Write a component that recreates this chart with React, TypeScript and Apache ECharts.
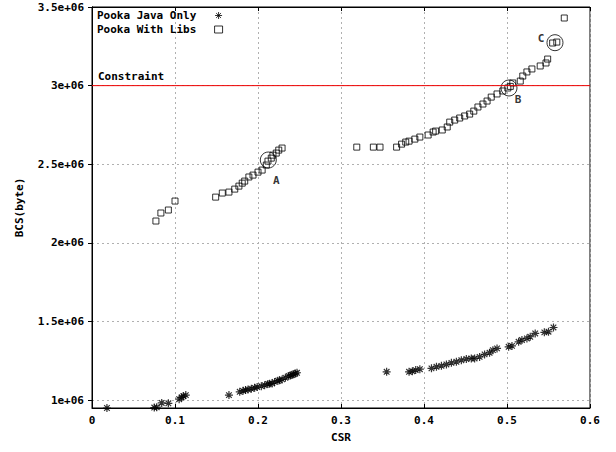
import React, { useEffect, useRef } from "react";
import * as echarts from "echarts";

const FONT = '"DejaVu Sans Mono", "Liberation Mono", monospace';

const X_MIN = 0;
const X_MAX = 0.6;
const X_INTERVAL = 0.1;
const Y_MIN = 950000;
const Y_MAX = 3500000;
const Y_TICKS = [1000000, 1500000, 2000000, 2500000, 3000000, 3500000];
const CONSTRAINT = 3000000;

const JAVA_NAME = "Pooka Java Only";
const LIBS_NAME = "Pooka With Libs";

const javaCSR = [
  0.018, 0.075, 0.078, 0.084, 0.092, 0.105, 0.108, 0.110, 0.113,
  0.165,
  0.178, 0.182, 0.185, 0.188, 0.192, 0.196, 0.199, 0.204, 0.208, 0.212, 0.214,
  0.217, 0.220, 0.224, 0.226, 0.229, 0.233, 0.237, 0.239, 0.241, 0.243, 0.245, 0.247,
  0.355,
  0.382, 0.386, 0.390, 0.395, 0.409, 0.415, 0.421, 0.427, 0.433, 0.439, 0.445,
  0.451, 0.457, 0.461, 0.467, 0.473, 0.479, 0.483, 0.488,
  0.502, 0.506, 0.514, 0.518, 0.524, 0.528, 0.534, 0.545, 0.550, 0.556,
];
const javaBCS = [
  950000, 953000, 955000, 982000, 980000, 1006000, 1018000, 1025000, 1032000,
  1032000,
  1053000, 1059000, 1064000, 1068000, 1072000, 1078000, 1083000, 1089000, 1095000, 1102000, 1104000,
  1106000, 1116000, 1123000, 1127000, 1132000, 1142000, 1153000, 1157000, 1161000, 1165000, 1170000, 1174000,
  1180000,
  1180000, 1184000, 1191000, 1197000, 1202000, 1212000, 1218000, 1227000, 1237000, 1244000, 1254000,
  1261000, 1265000, 1265000, 1275000, 1291000, 1301000, 1318000, 1329000,
  1339000, 1345000, 1371000, 1382000, 1392000, 1403000, 1424000, 1431000, 1435000, 1462000,
];

const libsCSR = [
  0.077, 0.083, 0.092, 0.100,
  0.149, 0.157, 0.165, 0.172, 0.177, 0.181, 0.184, 0.189, 0.194, 0.200, 0.205,
  0.210, 0.212, 0.216, 0.218, 0.222, 0.225, 0.229,
  0.319, 0.339, 0.347, 0.367, 0.373, 0.378, 0.382, 0.389, 0.395, 0.405, 0.411,
  0.414, 0.422, 0.428, 0.431, 0.437, 0.443, 0.449, 0.455, 0.460, 0.465, 0.471,
  0.476, 0.481, 0.488, 0.495, 0.501, 0.504, 0.507, 0.516, 0.519, 0.524, 0.530,
  0.540, 0.547, 0.549, 0.555, 0.560, 0.569,
];
const libsBCS = [
  2139000, 2190000, 2209000, 2266000,
  2291000, 2317000, 2323000, 2342000, 2361000, 2380000, 2393000, 2419000, 2431000, 2450000, 2463000,
  2495000, 2520000, 2539000, 2558000, 2571000, 2590000, 2603000,
  2609000, 2609000, 2609000, 2609000, 2628000, 2641000, 2647000, 2660000, 2673000, 2686000, 2705000,
  2711000, 2718000, 2737000, 2768000, 2781000, 2794000, 2807000, 2819000, 2838000, 2864000, 2883000,
  2902000, 2927000, 2947000, 2966000, 2985000, 2995000, 3017000, 3029000, 3061000, 3087000, 3106000,
  3125000, 3144000, 3169000, 3271000, 3277000, 3430000,
];

const annotNames = ["A", "B", "C"];
const annotCSR = [0.2124, 0.5024, 0.5578];
const annotBCS = [2527000, 2985000, 3273000];
const ANNOT_LABEL_OFFSETS = [
  [8, 20],
  [9, 12],
  [-14, -4],
];

const STAR = "path://M5,0L5,10M0,5L10,5M1.5,1.5L8.5,8.5M1.5,8.5L8.5,1.5";

const textBase = { fontFamily: FONT, fontSize: 11, fontWeight: "bold" as const, color: "#000" };

function fmtY(v: number) {
  return v / 1e6 + "e+06";
}
function fmtX(v: number) {
  return v === 0 ? "0" : v.toFixed(1);
}

export default function App() {
  const ref = useRef<HTMLDivElement>(null);
  useEffect(() => {
    if (!ref.current) return;
    const chart = echarts.init(ref.current, undefined, { renderer: "svg" });
    const markerStyle = { color: "transparent", borderColor: "#000", borderWidth: 1 };
    const splitLine = { show: true, lineStyle: { color: "#b0b0b0", type: [2, 3] as any, width: 1 } };
    const axisLine = { show: true, lineStyle: { color: "#000", width: 1 } };
    chart.setOption({
      animation: false,
      backgroundColor: "#fff",
      grid: { left: 92, right: 26, top: 7, bottom: 44, show: true, borderColor: "#000", borderWidth: 1 },
      legend: {
        orient: "vertical",
        left: 97,
        top: 10,
        align: "right",
        itemWidth: 8,
        itemHeight: 7,
        itemGap: 3,
        padding: 0,
        formatter: (n: string) => n + "\u00a0\u00a0",
        textStyle: { ...textBase },
        itemStyle: { color: "transparent", borderColor: "#000", borderWidth: 1 },
        data: [
          { name: JAVA_NAME, icon: STAR },
          { name: LIBS_NAME, icon: "rect" },
        ],
      },
      xAxis: [
        {
          type: "value",
          min: X_MIN,
          max: X_MAX,
          interval: X_INTERVAL,
          name: "CSR",
          nameLocation: "middle",
          nameGap: 24,
          nameTextStyle: { ...textBase },
          axisLine,
          axisTick: { show: true, inside: true, length: 4, lineStyle: { color: "#000" } },
          axisLabel: { ...textBase, margin: 7, formatter: fmtX },
          splitLine,
        },
        {
          type: "value",
          position: "top",
          min: X_MIN,
          max: X_MAX,
          interval: X_INTERVAL,
          axisLine,
          axisTick: { show: true, inside: true, length: 4, lineStyle: { color: "#000" } },
          axisLabel: { show: false },
          splitLine: { show: false },
        },
      ],
      yAxis: [
        {
          type: "value",
          min: Y_MIN,
          max: Y_MAX,
          name: "BCS(byte)",
          nameLocation: "middle",
          nameGap: 67,
          nameTextStyle: { ...textBase },
          axisLine,
          axisTick: { show: true, inside: false, length: 4, customValues: Y_TICKS, lineStyle: { color: "#000" } },
          axisLabel: { ...textBase, margin: 8, customValues: Y_TICKS, formatter: fmtY },
          splitLine,
        },
        {
          type: "value",
          position: "right",
          min: Y_MIN,
          max: Y_MAX,
          axisLine,
          axisTick: { show: true, inside: true, length: 4, customValues: Y_TICKS, lineStyle: { color: "#000" } },
          axisLabel: { show: false },
          splitLine: { show: false },
        },
      ],
      series: [
        {
          name: "Constraint",
          type: "line",
          symbol: "circle",
          symbolSize: 1,
          showSymbol: true,
          silent: true,
          z: 3,
          lineStyle: { color: "#ee0000", width: 1, type: "solid" },
          itemStyle: { color: "transparent" },
          data: [
            {
              value: [X_MIN, CONSTRAINT],
              label: {
                show: true,
                formatter: "Constraint",
                position: "top",
                align: "left",
                distance: 3,
                offset: [6, 0],
                ...textBase,
              },
            },
            [X_MAX, CONSTRAINT],
          ],
        },
        {
          name: JAVA_NAME,
          type: "scatter",
          symbol: STAR,
          symbolSize: 8,
          itemStyle: { ...markerStyle, borderWidth: 1.2 },
          data: javaCSR.map((x, i) => [x, javaBCS[i]]),
        },
        {
          name: LIBS_NAME,
          type: "scatter",
          symbol: "rect",
          symbolSize: 6,
          itemStyle: markerStyle,
          data: libsCSR.map((x, i) => [x, libsBCS[i]]),
        },
        {
          name: "annotations",
          type: "scatter",
          symbol: "circle",
          symbolSize: 16,
          itemStyle: markerStyle,
          silent: true,
          data: annotNames.map((n, i) => ({
            name: n,
            value: [annotCSR[i], annotBCS[i]],
            label: {
              show: true,
              position: "inside",
              offset: ANNOT_LABEL_OFFSETS[i],
              formatter: "{b}",
              ...textBase,
            },
          })),
        },
      ],
    });
    return () => chart.dispose();
  }, []);
  return <div ref={ref} style={{ position: "fixed", left: 0, top: 0, width: 616, height: 452 }} />;
}
